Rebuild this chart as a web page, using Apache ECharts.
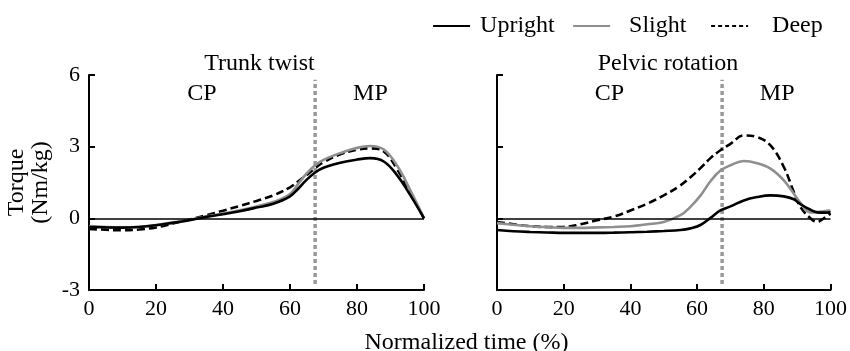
<!DOCTYPE html>
<html>
<head>
<meta charset="utf-8">
<script src="https://cdn.jsdelivr.net/npm/echarts@6/dist/echarts.min.js"></script>
<style>html,body{margin:0;padding:0;background:#fff;}#c{width:850px;height:351px;}</style>
</head>
<body>
<div id="c"></div>
<script>
const seriesNames = ['Upright', 'Slight', 'Deep'];
const panelTitles = ['Trunk twist', 'Pelvic rotation'];
const xAxisName = 'Normalized time (%)';
const yAxisName = 'Torque\n(Nm/kg)';
const phaseLabels = ['CP', 'MP'];
const phaseLabelPos = [[33.7, 5.2], [84, 5.2]];
const phaseBoundary = 67.5;

// Trunk twist
const trunkX = [0,5,10,15,20,25,30,35,40,45,50,55,60,62.5,65,67.5,70,75,80,84,88,92,96,100];
const trunkUpright = [-0.36,-0.38,-0.39,-0.36,-0.29,-0.19,-0.08,0.06,0.17,0.30,0.45,0.61,0.92,1.25,1.62,1.92,2.12,2.33,2.46,2.52,2.38,1.80,0.95,0];
const trunkSlight  = [-0.32,-0.36,-0.38,-0.35,-0.28,-0.17,-0.06,0.08,0.20,0.34,0.50,0.68,1.02,1.45,1.88,2.22,2.45,2.73,2.95,3.03,2.88,2.20,1.15,0];
const trunkDeep    = [-0.44,-0.48,-0.50,-0.47,-0.38,-0.22,-0.05,0.13,0.32,0.52,0.73,0.96,1.30,1.55,1.82,2.10,2.35,2.68,2.87,2.93,2.80,2.05,1.05,0];

// Pelvic rotation
const pelvisX = [0,5,10,15,20,25,30,35,40,45,50,55,58,61,64,67,70,74,78,82,86,89,91,94,96,98,100];
const pelvisUpright = [-0.49,-0.54,-0.57,-0.59,-0.61,-0.61,-0.61,-0.60,-0.58,-0.56,-0.53,-0.49,-0.42,-0.28,0.02,0.33,0.50,0.75,0.89,0.96,0.92,0.80,0.59,0.36,0.25,0.24,0.25];
const pelvisSlight  = [-0.20,-0.27,-0.33,-0.37,-0.40,-0.40,-0.38,-0.36,-0.33,-0.25,-0.15,0.13,0.48,0.95,1.55,2.00,2.22,2.40,2.31,2.08,1.59,1.03,0.65,0.25,0.26,0.30,0.33];
const pelvisDeep    = [-0.15,-0.25,-0.33,-0.36,-0.36,-0.25,-0.08,0.07,0.33,0.61,0.96,1.38,1.72,2.10,2.52,2.85,3.12,3.47,3.40,3.05,2.15,1.10,0.47,0.00,-0.15,0.00,0.20];

const FONT = "'Liberation Serif', 'Times New Roman', serif";
const zip = (xs, ys) => xs.map((x, i) => [x, ys[i]]);
const styles = [
  {color: '#000', type: 'solid', legendType: 'solid'},
  {color: '#8f8f8f', type: 'solid', legendType: 'solid'},
  {color: '#000', type: [8, 4], legendType: [4, 3]}
];

function lineSeries(name, xs, ys, idx, gi, withZero) {
  const s = {
    name, type: 'line', xAxisIndex: gi, yAxisIndex: gi,
    data: zip(xs, ys), smooth: 0.4, symbol: 'none', showSymbol: false,
    color: styles[idx].color,
    lineStyle: {color: styles[idx].color, width: 2.6, type: styles[idx].type},
    z: 5 - idx, silent: true
  };
  if (withZero) {
    s.markLine = {silent: true, symbol: 'none', label: {show: false},
      lineStyle: {color: '#000', width: 1.6, type: 'solid'},
      data: [{yAxis: 0}]};
  }
  return s;
}

function extraSeries(gi) {
  return [
    {type: 'line', xAxisIndex: gi, yAxisIndex: gi, symbol: 'none', silent: true,
     data: [[phaseBoundary, -2.75], [phaseBoundary, 5.8]],
     lineStyle: {color: '#999', width: 3.5, type: [4, 3]}, z: 1},
    {type: 'scatter', xAxisIndex: gi, yAxisIndex: gi, symbolSize: 1, silent: true,
     itemStyle: {opacity: 0},
     data: phaseLabels.map((t, i) => [phaseLabelPos[i][0], phaseLabelPos[i][1], t]),
     label: {show: true, position: 'inside', formatter: p => p.value[2],
       fontFamily: FONT, fontSize: 24, color: '#000', textBorderWidth: 0, opacity: 1}}
  ];
}

const grids = [
  {left: 89, right: 426, top: 75, bottom: 61},
  {left: 497, right: 17, top: 75, bottom: 61}
];

const xAxes = grids.map((g, i) => ({
  type: 'value', gridIndex: i, min: 0, max: 100, interval: 20,
  axisLine: {show: true, onZero: false, lineStyle: {color: '#000', width: 2}},
  axisTick: {show: true, inside: true, length: 6, lineStyle: {color: '#000', width: 2}},
  axisLabel: {fontFamily: FONT, fontSize: 22, color: '#000', margin: 8},
  splitLine: {show: false}
}));

const yAxes = grids.map((g, i) => ({
  type: 'value', gridIndex: i, min: -3, max: 6, interval: 3,
  name: i === 0 ? yAxisName : '', nameLocation: 'middle', nameGap: 36,
  nameTextStyle: {fontFamily: FONT, fontSize: 24, color: '#000', lineHeight: 24},
  axisLine: {show: true, onZero: false, lineStyle: {color: '#000', width: 2}},
  axisTick: {show: true, inside: true, length: 6, lineStyle: {color: '#000', width: 2}},
  axisLabel: {show: i === 0, fontFamily: FONT, fontSize: 22, color: '#000', margin: 9},
  splitLine: {show: false}
}));

const legendPos = [427, 567, 705];
const legendPad = [5, 14, 19];

const option = {
  animation: false,
  backgroundColor: '#fff',
  title: [
    {text: panelTitles[0], left: 254.5, top: 47, textAlign: 'center',
     textStyle: {fontFamily: FONT, fontSize: 24, fontWeight: 'normal', color: '#000'}},
    {text: panelTitles[1], left: 663, top: 47, textAlign: 'center',
     textStyle: {fontFamily: FONT, fontSize: 24, fontWeight: 'normal', color: '#000'}},
    {text: xAxisName, left: 461.5, top: 326, textAlign: 'center',
     textStyle: {fontFamily: FONT, fontSize: 24, fontWeight: 'normal', color: '#000'}}
  ],
  legend: seriesNames.map((n, i) => ({
    data: [n], left: legendPos[i], top: 9, itemWidth: 37, itemHeight: 14,
    selectedMode: false,
    itemStyle: {opacity: 0},
    lineStyle: {width: 2.2, inactiveWidth: 2.2, type: styles[i].legendType},
    textStyle: {fontFamily: FONT, fontSize: 24, color: '#000', padding: [0, 0, 0, legendPad[i]]}
  })),
  grid: grids,
  xAxis: xAxes,
  yAxis: yAxes,
  series: [
    lineSeries(seriesNames[0], trunkX, trunkUpright, 0, 0, true),
    lineSeries(seriesNames[1], trunkX, trunkSlight, 1, 0, false),
    lineSeries(seriesNames[2], trunkX, trunkDeep, 2, 0, false),
    lineSeries(seriesNames[0], pelvisX, pelvisUpright, 0, 1, true),
    lineSeries(seriesNames[1], pelvisX, pelvisSlight, 1, 1, false),
    lineSeries(seriesNames[2], pelvisX, pelvisDeep, 2, 1, false),
    ...extraSeries(0),
    ...extraSeries(1)
  ]
};

const chart = echarts.init(document.getElementById('c'), null, {renderer: 'canvas'});
chart.setOption(option);
</script>
</body>
</html>
